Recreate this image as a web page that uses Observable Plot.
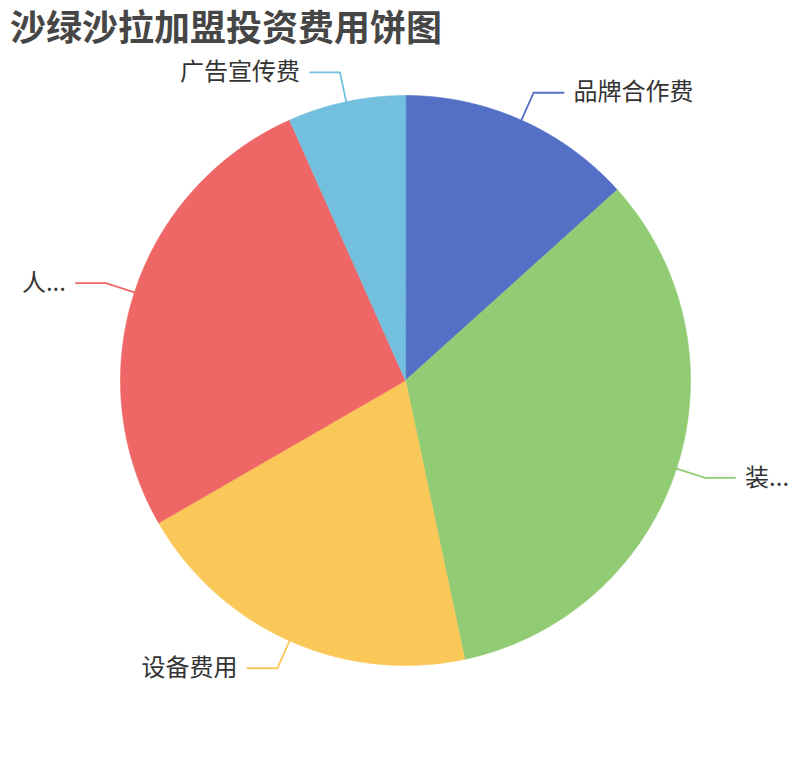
<!DOCTYPE html>
<html>
<head>
<meta charset="utf-8">
<script src="https://cdn.jsdelivr.net/npm/d3@7"></script>
<script src="https://cdn.jsdelivr.net/npm/@observablehq/plot@0.6"></script>
<style>
  body { margin: 0; background: #fff; font-family: "Noto Sans CJK SC", sans-serif; }
  #title { height: 50px; line-height: 50px; padding-left: 10px; font-size: 36px; font-weight: bold; color: #464646; white-space: nowrap; }
</style>
</head>
<body>
<div id="title">沙绿沙拉加盟投资费用饼图</div>
<div id="chart"></div>
<script>
const categories = ["品牌合作费", "装...", "设备费用", "人...", "广告宣传费"];
const values = [2, 5, 3, 4, 1];
const colors = ["#5470c6", "#91cc75", "#fac858", "#ee6666", "#73c0de"];

const data = categories.map((name, i) => ({name, value: values[i]}));
const arcs = d3.pie().sort(null).value(d => d.value)(data);

const R = 285, R2 = 315, L2 = 30;
const pt = (r, a) => ({x: r * Math.sin(a), y: r * Math.cos(a)});

const slicePts = [];
arcs.forEach(a => {
  slicePts.push({name: a.data.name, ...pt(0, 0)});
  const n = Math.max(2, Math.ceil((a.endAngle - a.startAngle) / (Math.PI / 360)));
  for (let k = 0; k <= n; k++) {
    const ang = a.startAngle + (a.endAngle - a.startAngle) * k / n;
    slicePts.push({name: a.data.name, ...pt(R, ang)});
  }
});

const linePts = [];
const labels = [];
arcs.forEach(a => {
  const m = (a.startAngle + a.endAngle) / 2;
  const p1 = pt(R, m), p2 = pt(R2, m);
  const right = p2.x >= 0;
  const p3 = {x: p2.x + (right ? L2 : -L2), y: p2.y};
  [p1, p2, p3].forEach(p => linePts.push({name: a.data.name, ...p}));
  labels.push({name: a.data.name, x: p3.x, y: p3.y, right});
});

const chart = Plot.plot({
  width: 810,
  height: 710,
  margin: 0,
  x: {domain: [-405, 405], axis: null},
  y: {domain: [-380, 330], axis: null},
  color: {domain: categories, range: colors},
  style: {fontFamily: "'Noto Sans CJK SC', sans-serif", background: "#fff"},
  marks: [
    Plot.line(slicePts, {x: "x", y: "y", z: "name", fill: "name", stroke: "name", strokeWidth: 0.6, curve: "linear-closed"}),
    Plot.line(linePts, {x: "x", y: "y", z: "name", stroke: "name", strokeWidth: 1.8}),
    Plot.text(labels.filter(d => d.right), {x: "x", y: "y", text: "name", textAnchor: "start", dx: 10, fontSize: 24, fill: "#333"}),
    Plot.text(labels.filter(d => !d.right), {x: "x", y: "y", text: "name", textAnchor: "end", dx: -10, fontSize: 24, fill: "#333"})
  ]
});
document.getElementById("chart").appendChild(chart);
</script>
</body>
</html>
